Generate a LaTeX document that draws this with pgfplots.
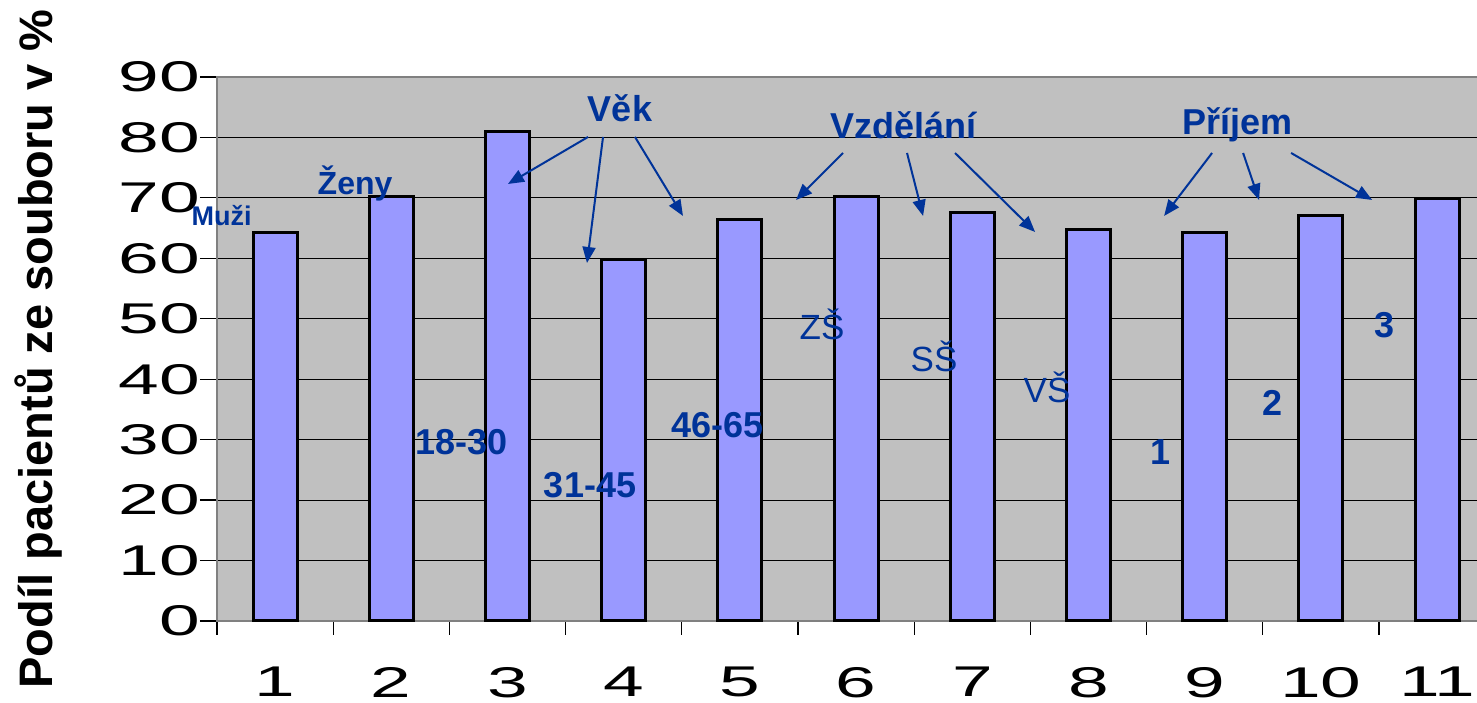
\documentclass[border=0pt]{standalone}
\usepackage{pgfplots}
\pgfplotsset{compat=1.18}
\usepackage{fontspec}
\setmainfont{Liberation Sans}
\usetikzlibrary{arrows.meta}

\definecolor{barfill}{RGB}{153,153,255}
\definecolor{plotbg}{RGB}{192,192,192}
\definecolor{frame}{RGB}{128,128,128}
\definecolor{note}{RGB}{0,51,153}

\tikzset{
  grp/.style={text=note, font=\bfseries\fontsize{18}{20}\selectfont},
  sub/.style={text=note, font=\fontsize{17.5}{20}\selectfont},
  arr/.style={draw=note, line width=1pt, -{Triangle[length=8pt,width=6.5pt]}},
}

\begin{document}
\begin{tikzpicture}
\begin{axis}[
    scale only axis,
    width=631pt, height=272pt,
    xmin=0.5, xmax=11.36,
    ymin=0, ymax=90,
    ytick={0,10,...,90},
    xtick={1,...,11},
    minor xtick={0.5,1.5,...,10.5},
    major x tick style={draw=none},
    xtick pos=bottom, ytick pos=left,
    tick align=outside,
    major tick length=8.5pt,
    minor tick length=7pt,
    tick style={black, line width=0.6pt},
    ymajorgrids,
    grid style={black, line width=0.5pt},
    axis background/.style={fill=plotbg},
    axis line style={frame, line width=1.3pt},
    clip=false,
    /pgf/number format/assume math mode=true,
    yticklabel style={font=\fontsize{21.5}{24}\selectfont, xscale=1.7, anchor=east, xshift=3.5pt},
    xticklabel style={font=\fontsize{21.5}{24}\selectfont, xscale=1.7, inner sep=0pt, yshift=-14.5pt},
    ylabel={Podíl pacientů ze souboru v \%},
    ylabel style={font=\bfseries\fontsize{23.5}{26}\selectfont, at={(axis description cs:-0.1418,0.5)}, anchor=center},
]
\addplot[ybar, bar width=22pt, fill=barfill, draw=black, line width=1.5pt] coordinates {
    (1,64.2) (2,70.3) (3,81.0) (4,59.8) (5,66.5) (6,70.3)
    (7,67.6) (8,64.7) (9,64.3) (10,67.1) (11,69.9)
};

% skupiny
\node[grp] at (axis cs:3.968,84.9) {Věk};
\node[grp] at (axis cs:6.404,82.1) {Vzdělání};
\node[grp] at (axis cs:9.278,82.1) {Příjem};

\node[text=note, font=\bfseries\fontsize{13.5}{15}\selectfont, inner sep=1pt] at (axis cs:0.54,67.0) {Muži};
\node[text=note, font=\bfseries\fontsize{16}{18}\selectfont] at (axis cs:1.688,72.3) {Ženy};

\node[grp] at (axis cs:2.608,29.6) {18-30};
\node[grp] at (axis cs:3.71,22.5) {31-45};
\node[grp] at (axis cs:4.81,32.4) {46-65};

\node[sub] at (axis cs:5.707,49.0) {ZŠ};
\node[sub] at (axis cs:6.67,43.7) {SŠ};
\node[sub] at (axis cs:7.643,38.6) {VŠ};

\node[grp] at (axis cs:8.616,28.0) {1};
\node[grp] at (axis cs:9.579,36.1) {2};
\node[grp] at (axis cs:10.55,49.0) {3};

% sipky
\draw[arr] (axis cs:3.693,80.08) -- (axis cs:3.004,72.30);
\draw[arr] (axis cs:3.822,80.08) -- (axis cs:3.684,59.23);
\draw[arr] (axis cs:4.097,80.08) -- (axis cs:4.510,67.01);
\draw[arr] (axis cs:5.887,77.43) -- (axis cs:5.483,69.66);
\draw[arr] (axis cs:6.438,77.43) -- (axis cs:6.576,67.01);
\draw[arr] (axis cs:6.851,77.43) -- (axis cs:7.540,64.36);
\draw[arr] (axis cs:9.063,77.43) -- (axis cs:8.650,67.01);
\draw[arr] (axis cs:9.330,77.43) -- (axis cs:9.467,69.66);
\draw[arr] (axis cs:9.743,77.43) -- (axis cs:10.44,69.66);
\end{axis}
\pgfresetboundingbox
\path ([xshift=-108.5pt,yshift=-41pt]current axis.south west) rectangle ([xshift=-1pt,yshift=38.5pt]current axis.north east);
\end{tikzpicture}
\end{document}
